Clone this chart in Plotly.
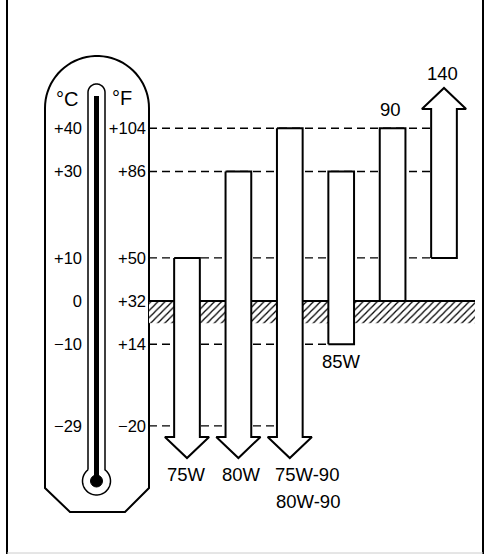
import numpy as np
import plotly.graph_objects as go

# ---------------- data ----------------
grades = ["75W", "80W", "75W-90", "85W", "90", "140"]
low_f = [None, None, None, 14, 32, 50]        # None -> open end (arrow down)
high_f = [50, 86, 104, 86, 104, None]         # None -> open end (arrow up)
label_lines = [["75W"], ["80W"], ["75W-90", "80W-90"], ["85W"], ["90"], ["140"]]

temps_c = [40, 30, 10, 0, -10, -29]
temps_f = [104, 86, 50, 32, 14, -20]
c_labels = ["+40", "+30", "+10", "0", "\u221210", "\u221229"]
f_labels = ["+104", "+86", "+50", "+32", "+14", "\u221220"]
freezing_f = 32

# ---------------- layout / style ----------------
W, H = 491, 555
X0_PX, DX_PX = 187.0, 51.4            # pixel centre of bar 0, pixels per bar
Y_REF_PX, Y_REF_F, PX_PER_F = 271.5, 44.33, 2.4
FONT = "Liberation Sans, Arial, Helvetica, sans-serif"

x_range = [(0 - X0_PX) / DX_PX, (W - X0_PX) / DX_PX]
y_range = [Y_REF_F - (H - Y_REF_PX) / PX_PER_F, Y_REF_F + Y_REF_PX / PX_PER_F]


def xi(px):   # pixel -> bar-index units
    return (px - X0_PX) / DX_PX


def PX(x):    # pixel -> paper
    return x / W


def PY(y):
    return 1 - y / H


BAR_W = 0.5
HEAD_HW = 0.43
HEAD_H = 8.8            # deg F
DOWN_SHAFT_END = -24.6  # deg F, open lower end
UP_SHAFT_END = 112.0    # deg F, open upper end
GROUND_DEPTH = 9.2      # deg F
THERM_RIGHT = xi(149)
GROUND_END = xi(475)

fig = go.Figure()

# dashed reference lines
for t in temps_f:
    if t == freezing_f:
        continue
    right_i = None
    for i in range(len(grades)):
        lo = -1e9 if low_f[i] is None else low_f[i]
        hi = 1e9 if high_f[i] is None else high_f[i]
        if lo <= t <= hi:
            right_i = i
    x_end = right_i - BAR_W / 2
    fig.add_trace(go.Scatter(x=[THERM_RIGHT, x_end], y=[t, t], mode="lines",
                             line=dict(color="black", width=1.4, dash="8px,5px"),
                             hoverinfo="skip", showlegend=False))

# hatched ground at freezing point
fig.add_trace(go.Scatter(
    x=[THERM_RIGHT, GROUND_END, GROUND_END, THERM_RIGHT, THERM_RIGHT],
    y=[freezing_f, freezing_f, freezing_f - GROUND_DEPTH, freezing_f - GROUND_DEPTH, freezing_f],
    mode="lines", fill="toself", line=dict(width=0, color="rgba(0,0,0,0)"),
    fillcolor="white",
    fillpattern=dict(shape="/", fgcolor="black", bgcolor="white", size=5, solidity=0.25),
    hoverinfo="skip", showlegend=False))
fig.add_trace(go.Scatter(x=[THERM_RIGHT, GROUND_END], y=[freezing_f, freezing_f], mode="lines",
                         line=dict(color="black", width=2), hoverinfo="skip", showlegend=False))

# bars / arrows
for i, g in enumerate(grades):
    l, r, c = i - BAR_W / 2, i + BAR_W / 2, i
    lo, hi = low_f[i], high_f[i]
    if lo is None:
        e = DOWN_SHAFT_END
        xs = [l, l, c - HEAD_HW, c, c + HEAD_HW, r, r, l]
        ys = [hi, e, e, e - HEAD_H, e, e, hi, hi]
    elif hi is None:
        e = UP_SHAFT_END
        xs = [l, l, c - HEAD_HW, c, c + HEAD_HW, r, r, l]
        ys = [lo, e, e, e + HEAD_H, e, e, lo, lo]
    else:
        xs = [l, r, r, l, l]
        ys = [lo, lo, hi, hi, lo]
    fig.add_trace(go.Scatter(x=xs, y=ys, mode="lines", fill="toself", fillcolor="white",
                             line=dict(color="black", width=2), hoverinfo="skip",
                             showlegend=False))

# grade labels
label_xshift = {0: -1, 1: 3, 2: 17, 3: 0, 4: -2, 5: -2}
for i, lines in enumerate(label_lines):
    lo, hi = low_f[i], high_f[i]
    for k, txt in enumerate(lines):
        if lo is None:
            y, anchor, ys = DOWN_SHAFT_END - HEAD_H, "top", -4 - 27 * k
        elif hi is None:
            y, anchor, ys = UP_SHAFT_END + HEAD_H, "bottom", 2
        elif i == 4:
            y, anchor, ys = hi, "bottom", 6
        else:
            y, anchor, ys = lo, "top", -5
        fig.add_annotation(x=i, y=y, text=txt, showarrow=False, xanchor="center",
                           yanchor=anchor, yshift=ys,
                           xshift=label_xshift[i] + (1 if k == 1 else 0),
                           font=dict(size=18.5, color="black", family=FONT))

# ---------------- thermometer (decoration) ----------------
shapes = []
t = np.linspace(np.pi, 0, 40)
outer = [(45, 488), (45, 108)] + [(97 + 52 * np.cos(a), 108 - 52 * np.sin(a)) for a in t] + \
        [(149, 108), (149, 488), (125, 512), (70, 512)]
path = "M " + " L ".join(f"{PX(x):.5f},{PY(y):.5f}" for x, y in outer) + " Z"
shapes.append(dict(type="path", xref="paper", yref="paper", path=path,
                   line=dict(color="black", width=2), fillcolor="rgba(0,0,0,0)", layer="below"))

tcx, bcy, tr, br = 96.5, 481.0, 8.5, 14.0
meet = bcy - np.sqrt(br ** 2 - tr ** 2)
tube = [(tcx - tr, meet), (tcx - tr, 92.5)] + \
       [(tcx + tr * np.cos(a), 92.5 - tr * np.sin(a)) for a in t] + [(tcx + tr, meet)]
a0 = np.arctan2(-(bcy - meet), tr)
a1 = np.arctan2(-(bcy - meet), -tr) + 2 * np.pi
tube += [(tcx + br * np.cos(a), bcy + br * np.sin(a)) for a in np.linspace(a0, a1, 50)]
path = "M " + " L ".join(f"{PX(x):.5f},{PY(y):.5f}" for x, y in tube)
shapes.append(dict(type="path", xref="paper", yref="paper", path=path,
                   line=dict(color="black", width=1.5), layer="below"))
shapes.append(dict(type="line", xref="paper", yref="paper", x0=PX(tcx), x1=PX(tcx),
                   y0=PY(96), y1=PY(476), line=dict(color="black", width=5), layer="below"))
shapes.append(dict(type="circle", xref="paper", yref="paper", x0=PX(tcx - 6), x1=PX(tcx + 6),
                   y0=PY(bcy + 6), y1=PY(bcy - 6), fillcolor="black",
                   line=dict(color="black", width=1), layer="below"))

# frame
shapes.append(dict(type="line", xref="paper", yref="paper", x0=PX(7), x1=PX(7), y0=PY(0), y1=PY(554),
                   line=dict(color="black", width=2)))
shapes.append(dict(type="line", xref="paper", yref="paper", x0=PX(483), x1=PX(483), y0=PY(0), y1=PY(554),
                   line=dict(color="black", width=2)))
shapes.append(dict(type="line", xref="paper", yref="paper", x0=PX(7), x1=PX(483), y0=PY(553), y1=PY(553),
                   line=dict(color="#cccccc", width=1)))

fig.add_annotation(x=PX(67), y=PY(99), xref="paper", yref="paper", text="\u00b0C", showarrow=False,
                   xanchor="center", yanchor="middle",
                   font=dict(size=20, color="black", family=FONT))
fig.add_annotation(x=PX(122), y=PY(98), xref="paper", yref="paper", text="\u00b0F", showarrow=False,
                   xanchor="center", yanchor="middle",
                   font=dict(size=20, color="black", family=FONT))

# Celsius ticks placed at the equivalent Fahrenheit heights
c_as_f = [c * 9 / 5 + 32 for c in temps_c]

fig.update_layout(
    width=W, height=H, margin=dict(l=0, r=0, t=0, b=0),
    paper_bgcolor="white", plot_bgcolor="rgba(0,0,0,0)", template="none",
    font=dict(family=FONT, color="black"),
    showlegend=False, shapes=shapes,
    xaxis=dict(range=x_range, visible=False, fixedrange=True, automargin=False),
    yaxis=dict(range=y_range, anchor="free", position=PX(146), side="left",
               tickvals=temps_f, ticktext=f_labels, ticks="", showgrid=False, zeroline=False,
               showline=False, automargin=False, tickfont=dict(size=16.5, family=FONT)),
    yaxis2=dict(range=y_range, overlaying="y", anchor="free", position=PX(82), side="left",
                tickvals=c_as_f, ticktext=c_labels, ticks="", showgrid=False, zeroline=False,
                showline=False, automargin=False, tickfont=dict(size=16.5, family=FONT)),
)
# dummy trace to bind yaxis2
fig.add_trace(go.Scatter(x=[None], y=[None], yaxis="y2", showlegend=False, hoverinfo="skip"))

fig.write_html("out.html", config={"displayModeBar": False},
               post_script="document.body.style.margin='0';document.body.style.overflow='hidden';")
